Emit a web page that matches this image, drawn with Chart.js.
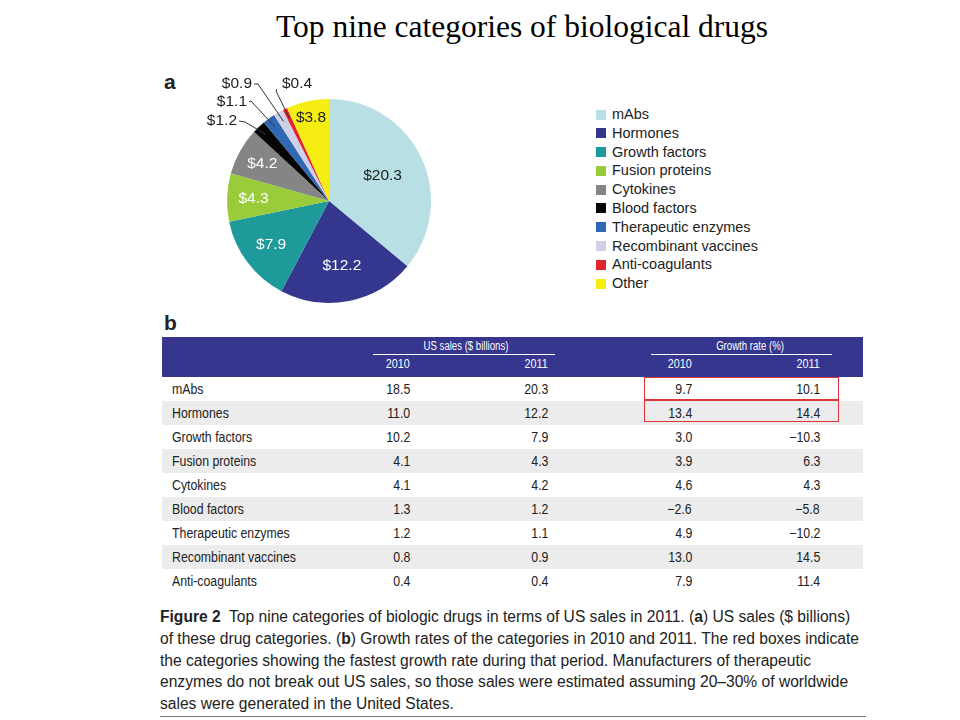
<!DOCTYPE html>
<html>
<head>
<meta charset="utf-8">
<script src="https://cdn.jsdelivr.net/npm/chart.js@4.4.1/dist/chart.umd.min.js"></script>
<style>
  html, body { margin: 0; padding: 0; background: #fff; }
  #page { position: relative; width: 960px; height: 720px; overflow: hidden; font-family: "Liberation Sans", Arial, sans-serif; }
  #title { position: absolute; left: 0; width: 1044px; top: 9px; text-align: center; font-family: "Liberation Serif", "Times New Roman", serif; font-size: 31.5px; color: #000; }
  .panel { position: absolute; font-weight: bold; font-size: 21px; color: #222; }
  #pieBox { position: absolute; left: 160px; top: 60px; width: 340px; height: 260px; }
  #legend { position: absolute; left: 596px; top: 105px; font-size: 14.5px; color: #222; }
  #legend .item { height: 18.8px; line-height: 18.8px; white-space: nowrap; }
  #legend .sw { display: inline-block; width: 10px; height: 10px; margin-right: 6px; vertical-align: -0.5px; }
  #thead { position: absolute; left: 162px; top: 337px; width: 701px; height: 40px; background: #36368f; color: #fff; font-size: 12px; }
  #thead .t { position: absolute; white-space: nowrap; }
  #thead .ul { position: absolute; height: 1.5px; background: #fff; top: 16.5px; }
  #tbody { position: absolute; left: 162px; top: 377px; width: 701px; font-size: 14px; color: #222; }
  #tbody .row { position: relative; height: 24px; line-height: 24px; }
  #tbody .row.g { background: #ececec; }
  #tbody .c { position: absolute; white-space: nowrap; transform-origin: right center; transform: scaleX(0.88); }
  #tbody .c0 { transform-origin: left center; }
  .rbox { position: absolute; border: 1.5px solid #e0353b; box-sizing: border-box; }
  #caption { position: absolute; left: 160px; top: 606px; width: 720px; font-size: 15.6px; line-height: 21.8px; color: #222; white-space: nowrap; font-family: "Liberation Sans Narrow", "Liberation Sans", Arial, sans-serif; }
  #caption .ln { display: block; transform-origin: left center; }
  #rule { position: absolute; left: 160px; top: 716px; width: 706px; height: 1px; background: #777; }
</style>
</head>
<body>
<div id="page">
  <div id="title">Top nine categories of biological drugs</div>
  <div class="panel" style="left:164px; top:70px;">a</div>
  <div class="panel" style="left:164px; top:311px;">b</div>
  <div id="pieBox"><canvas id="pie" width="340" height="260"></canvas></div>
  <div id="legend"></div>
  <div id="thead"></div>
  <div id="tbody"></div>
  <div class="rbox" style="left:644px; top:377px; width:195px; height:23.5px;"></div>
  <div class="rbox" style="left:644px; top:399px; width:195px; height:23px;"></div>
  <div id="caption"></div>
  <div id="rule"></div>
</div>
<script>
// ---- data ----
const pieLabels = ["mAbs", "Hormones", "Growth factors", "Fusion proteins", "Cytokines", "Blood factors", "Therapeutic enzymes", "Recombinant vaccines", "Anti-coagulants", "Other"];
const pieValues = [20.3, 12.2, 7.9, 4.3, 4.2, 1.2, 1.1, 0.9, 0.4, 3.8];
const pieValueText = ["$20.3", "$12.2", "$7.9", "$4.3", "$4.2", "$1.2", "$1.1", "$0.9", "$0.4", "$3.8"];
const pieColors = ["#b8dfe3", "#35368e", "#1f9a9b", "#9acb3b", "#858585", "#050505", "#2f69b3", "#cfcfe8", "#e4232a", "#f6ee13"];

const tableCategories = ["mAbs", "Hormones", "Growth factors", "Fusion proteins", "Cytokines", "Blood factors", "Therapeutic enzymes", "Recombinant vaccines", "Anti-coagulants"];
const sales2010 = ["18.5", "11.0", "10.2", "4.1", "4.1", "1.3", "1.2", "0.8", "0.4"];
const sales2011 = ["20.3", "12.2", "7.9", "4.3", "4.2", "1.2", "1.1", "0.9", "0.4"];
const growth2010 = ["9.7", "13.4", "3.0", "3.9", "4.6", "\u22122.6", "4.9", "13.0", "7.9"];
const growth2011 = ["10.1", "14.4", "\u221210.3", "6.3", "4.3", "\u22125.8", "\u221210.2", "14.5", "11.4"];
const groupHeaders = ["US sales ($ billions)", "Growth rate (%)"];
const yearHeaders = ["2010", "2011", "2010", "2011"];

const captionLines = [
  "<b>Figure 2</b>&nbsp; Top nine categories of biologic drugs in terms of US sales in 2011. (<b>a</b>) US sales ($ billions)",
  "of these drug categories. (<b>b</b>) Growth rates of the categories in 2010 and 2011. The red boxes indicate",
  "the categories showing the fastest growth rate during that period. Manufacturers of therapeutic",
  "enzymes do not break out US sales, so those sales were estimated assuming 20\u201330% of worldwide",
  "sales were generated in the United States."
];

// ---- label styling (positions relative to pie centre, not data) ----
const labelStyle = [
  {inside: true, r: 0.58, color: "#1d1d1d"},
  {inside: true, r: 0.65, color: "#ffffff"},
  {inside: true, r: 0.71, color: "#ffffff"},
  {inside: true, r: 0.74, color: "#ffffff"},
  {inside: true, r: 0.75, color: "#ffffff"},
  {inside: false, tx: -92, ty: -80, align: "right", bend: [-84, -79], r: 0.9},
  {inside: false, tx: -82, ty: -99, align: "right", bend: [-78, -100], r: 0.9},
  {inside: false, tx: -77, ty: -117, align: "right", bend: [-71, -117], r: 0.9},
  {inside: false, tx: -47, ty: -117, align: "left", bend: [-53, -110], r: 0.9},
  {inside: true, r: 0.84, color: "#1d1d1d"}
];

// ---- legend ----
const legend = document.getElementById("legend");
pieLabels.forEach((l, i) => {
  const d = document.createElement("div");
  d.className = "item";
  d.innerHTML = '<span class="sw" style="background:' + pieColors[i] + '"></span>' + l;
  legend.appendChild(d);
});

// ---- pie ----
const sliceLabels = {
  id: "sliceLabels",
  afterDatasetsDraw(chart) {
    const ctx = chart.ctx;
    const meta = chart.getDatasetMeta(0);
    ctx.save();
    ctx.font = "15.5px 'Liberation Sans', Arial, sans-serif";
    ctx.textBaseline = "middle";
    meta.data.forEach((arc, i) => {
      const p = arc.getProps(["x", "y", "startAngle", "endAngle", "outerRadius"], true);
      const mid = (p.startAngle + p.endAngle) / 2;
      const s = labelStyle[i];
      if (s.inside) {
        ctx.fillStyle = s.color;
        ctx.textAlign = "center";
        ctx.fillText(pieValueText[i], p.x + Math.cos(mid) * p.outerRadius * s.r, p.y + Math.sin(mid) * p.outerRadius * s.r);
      } else {
        const ax = p.x + Math.cos(mid) * p.outerRadius * s.r;
        const ay = p.y + Math.sin(mid) * p.outerRadius * s.r;
        const tx = p.x + s.tx, ty = p.y + s.ty;
        ctx.strokeStyle = "#333";
        ctx.lineWidth = 1;
        ctx.beginPath();
        if (s.align === "right") {
          ctx.moveTo(tx + 2, ty);
        } else {
          ctx.moveTo(tx - 5, ty + 5);
        }
        ctx.lineTo(p.x + s.bend[0], p.y + s.bend[1]);
        ctx.lineTo(ax, ay);
        ctx.stroke();
        ctx.fillStyle = "#1d1d1d";
        ctx.textAlign = s.align;
        ctx.fillText(pieValueText[i], tx, ty);
      }
    });
    ctx.restore();
  }
};

new Chart(document.getElementById("pie"), {
  type: "pie",
  data: {
    labels: pieLabels,
    datasets: [{ data: pieValues, backgroundColor: pieColors, borderWidth: 0 }]
  },
  options: {
    responsive: false,
    animation: false,
    layout: { padding: { left: 67, right: 69, top: 39, bottom: 17 } },
    plugins: { legend: { display: false }, tooltip: { enabled: false } }
  },
  plugins: [sliceLabels]
});

// ---- table ----
const colRight = [248, 386, 530, 658]; // right edges relative to table left
const thead = document.getElementById("thead");
function addT(text, x, top, align) {
  const s = document.createElement("span");
  s.className = "t";
  s.textContent = text;
  s.style.top = top + "px";
  if (align === "right") {
    s.style.right = (701 - x) + "px";
    s.style.transformOrigin = "right center";
    s.style.transform = "scaleX(0.9)";
  } else {
    s.style.left = x + "px";
    s.style.transform = "translateX(-50%) scaleX(0.8)";
  }
  thead.appendChild(s);
}
addT(groupHeaders[0], 304, 2, "center");
addT(groupHeaders[1], 588, 2, "center");
yearHeaders.forEach((y, i) => addT(y, colRight[i], 20, "right"));
[[211, 182], [489, 181]].forEach(([l, w]) => {
  const u = document.createElement("div");
  u.className = "ul"; u.style.left = l + "px"; u.style.width = w + "px";
  thead.appendChild(u);
});

const tbody = document.getElementById("tbody");
tableCategories.forEach((c, i) => {
  const r = document.createElement("div");
  r.className = "row" + (i % 2 === 1 ? " g" : "");
  const cells = [sales2010[i], sales2011[i], growth2010[i], growth2011[i]];
  let html = '<span class="c c0" style="left:10px">' + c + '</span>';
  cells.forEach((v, j) => {
    html += '<span class="c" style="right:' + (701 - colRight[j]) + 'px">' + v + '</span>';
  });
  r.innerHTML = html;
  tbody.appendChild(r);
});

// ---- caption ----
const cap = document.getElementById("caption");
captionLines.forEach(l => {
  const d = document.createElement("span");
  d.className = "ln";
  d.innerHTML = l;
  cap.appendChild(d);
});
</script>
</body>
</html>
